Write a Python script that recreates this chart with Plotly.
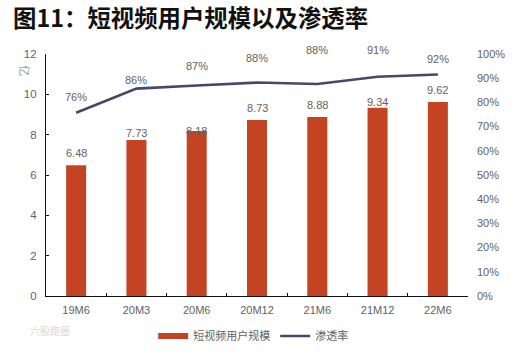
import plotly.graph_objects as go

categories = ["19M6", "20M3", "20M6", "20M12", "21M6", "21M12", "22M6"]
users = [6.48, 7.73, 8.18, 8.73, 8.88, 9.34, 9.62]
user_labels = ["6.48", "7.73", "8.18", "8.73", "8.88", "9.34", "9.62"]
rate = [0.757, 0.857, 0.87, 0.882, 0.876, 0.906, 0.915]
rate_labels = ["76%", "86%", "87%", "88%", "88%", "91%", "92%"]
user_shift = [12, 7, 0, 12, 12, 6, 12]
rate_shift = [16, 9, 19, 25, 34, 27, 16]
left_ticks = [0, 2, 4, 6, 8, 10, 12]
right_ticks = [i / 10 for i in range(11)]
right_labels = [f"{i*10}%" for i in range(11)]

GREY = "#626262"
FONT = "Liberation Sans, Noto Sans CJK SC"

fig = go.Figure()
fig.add_trace(go.Bar(
    x=categories, y=users, name="短视频用户规模", marker=dict(color="#C44322", line=dict(width=0)),
    showlegend=False,
))
fig.add_trace(go.Scatter(
    x=[categories[0]], y=[None], name="短视频用户规模", mode="lines",
    line=dict(color="#C44322", width=6),
))
fig.add_trace(go.Scatter(
    x=categories, y=rate, name="渗透率", yaxis="y2", mode="lines",
    line=dict(color="#4A4669", width=2.6),
))
for c, v, t, s in zip(categories, users, user_labels, user_shift):
    fig.add_annotation(x=c, y=v, text=t, showarrow=False, yshift=s,
                       font=dict(size=11, color=GREY, family=FONT))
for c, r, t, s in zip(categories, rate, rate_labels, rate_shift):
    fig.add_annotation(x=c, y=r, yref="y2", text=t, showarrow=False, yshift=s,
                       font=dict(size=11, color=GREY, family=FONT))

fig.add_annotation(xref="paper", yref="paper", x=-0.073, y=0.963, text="亿", textangle=90,
                   showarrow=False, font=dict(size=11, color="#9a9a9a", family=FONT))
fig.add_annotation(xref="paper", yref="paper", xanchor="left", x=-0.043, y=-0.18,
                   text="六股跑圈", showarrow=False,
                   font=dict(size=10, color="#d8d8d8", family="Noto Sans CJK SC"))

fig.update_layout(
    width=521, height=353, autosize=False,
    margin=dict(l=46, r=53, t=54, b=56.5),
    paper_bgcolor="white", plot_bgcolor="white",
    bargap=0.668, showlegend=True,
    title=dict(text="<b>图11：短视频用户规模以及渗透率</b>", x=13/521, xanchor="left",
               y=0.948, yanchor="middle",
               font=dict(size=23.4, color="#111111", family="Noto Sans CJK SC")),
    font=dict(family=FONT, color=GREY, size=11),
    legend=dict(orientation="h", x=0.491, xanchor="center", yref="container", y=0.048, yanchor="middle",
                font=dict(size=11, color=GREY), traceorder="normal", itemwidth=30),
    xaxis=dict(showline=True, linecolor="#111111", linewidth=1.2, ticks="inside", ticklen=3,
               tickcolor="#111111", showgrid=False, tickson="boundaries", automargin=False,
               ticklabelstandoff=4, tickfont=dict(size=11, color=GREY)),
    yaxis=dict(range=[0, 12], tickvals=left_ticks, showline=True, linecolor="#111111",
               linewidth=1.2, ticks="inside", ticklen=3, tickcolor="#111111", automargin=False,
               ticklabelstandoff=6, showgrid=False, zeroline=False, tickfont=dict(size=11.5, color=GREY)),
    yaxis2=dict(range=[0, 1], overlaying="y", side="right", tickvals=right_ticks, color=GREY,
                ticktext=right_labels, showline=False, ticks="", showgrid=False, automargin=False,
                ticklabelstandoff=8, zeroline=False, tickfont=dict(size=11, color=GREY)),
)
fig.write_html("out.html", post_script="document.body.style.margin='0';",
               config=dict(displayModeBar=False))
